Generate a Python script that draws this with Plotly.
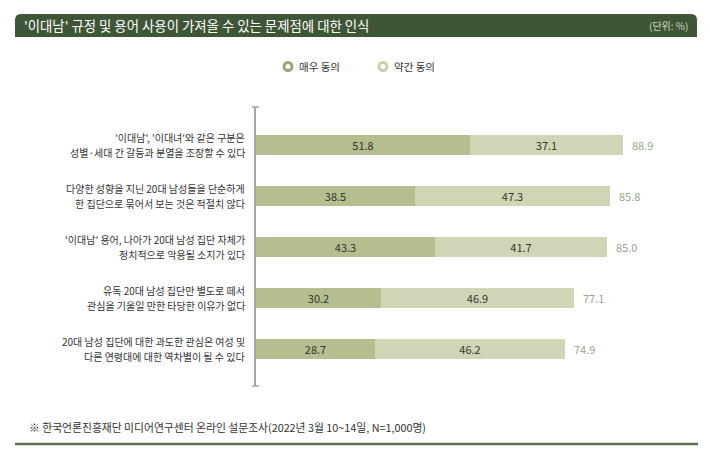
import plotly.graph_objects as go

categories = [
    "'이대남', '이대녀'와 같은 구분은<br>성별·세대 간 갈등과 분열을 조장할 수 있다",
    "다양한 성향을 지닌 20대 남성들을 단순하게<br>한 집단으로 묶어서 보는 것은 적절치 않다",
    "'이대남' 용어, 나아가 20대 남성 집단 자체가<br>정치적으로 악용될 소지가 있다",
    "유독 20대 남성 집단만 별도로 떼서<br>관심을 기울일 만한 타당한 이유가 없다",
    "20대 남성 집단에 대한 과도한 관심은 여성 및<br>다른 연령대에 대한 역차별이 될 수 있다",
]
strong = [51.8, 38.5, 43.3, 30.2, 28.7]
somewhat = [37.1, 47.3, 41.7, 46.9, 46.2]
totals = [88.9, 85.8, 85.0, 77.1, 74.9]
series_names = ["매우 동의", "약간 동의"]
title_text = "'이대남' 규정 및 용어 사용이 가져올 수 있는 문제점에 대한 인식"
unit_text = "(단위: %)"
source_text = "※ 한국언론진흥재단 미디어연구센터 온라인 설문조사(2022년 3월 10~14일, N=1,000명)"

FONT = "Noto Sans CJK KR"
DARK = "#b5be8e"
LIGHT = "#d0d6b5"
RING = ["#9ca672", "#c8cfaa"]
HEADER = "#3e5636"

W, H = 710, 467
L, R, T, B = 256, 669, 107, 386


def px(x):
    return (x - L) / (R - L)


def py(y):
    return (B - y) / (B - T)


fig = go.Figure()
for name, vals, col in zip(series_names, [strong, somewhat], [DARK, LIGHT]):
    fig.add_trace(go.Bar(
        y=categories, x=vals, orientation="h", name=name,
        marker=dict(color=col, line=dict(width=0)),
        width=0.39, texttemplate="%{x:.1f}", textposition="inside", insidetextanchor="middle",
        textangle=0, constraintext="none", textfont=dict(color="#333333", size=11, family=FONT),
        showlegend=False, hoverinfo="skip"))

shapes = []
# header bar with rounded top corners
x0, x1, y0, y1 = px(15), px(697), py(37), py(14)
rx = 6 / (R - L)
ry = 6 / (B - T)
path = (f"M {x0},{y0} L {x0},{y1 - ry} Q {x0},{y1} {x0 + rx},{y1} "
        f"L {x1 - rx},{y1} Q {x1},{y1} {x1},{y1 - ry} L {x1},{y0} Z")
shapes.append(dict(type="path", xref="paper", yref="paper", path=path,
                   fillcolor=HEADER, line=dict(width=0), layer="below"))
# axis caps
for yy in (T, B):
    shapes.append(dict(type="line", xref="paper", yref="paper",
                       x0=px(252), x1=px(259), y0=py(yy), y1=py(yy),
                       line=dict(color="#a6a6a6", width=1.5)))
# footer line
shapes.append(dict(type="line", xref="paper", yref="paper",
                   x0=px(15), x1=px(698), y0=py(444), y1=py(444),
                   line=dict(color="#5b7152", width=2.5)))

annotations = [
    dict(text=title_text, xref="paper", yref="paper", x=px(22), y=py(25.5),
         xanchor="left", yanchor="middle", showarrow=False,
         font=dict(color="white", size=13.4, family=FONT)),
    dict(text=unit_text, xref="paper", yref="paper", x=px(690), y=py(25.5),
         xanchor="right", yanchor="middle", showarrow=False,
         font=dict(color="#cdd5bf", size=10, family=FONT)),
    dict(text=source_text, xref="paper", yref="paper", x=px(27), y=py(427),
         xanchor="left", yanchor="middle", showarrow=False,
         font=dict(color="#333333", size=10.8, family=FONT)),
]

# category labels: one annotation per line, right-aligned to the axis
for cat in categories:
    lines = cat.split("<br>")
    n = len(lines)
    for i, line in enumerate(lines):
        annotations.append(dict(text=line, x=0, y=cat, xref="x", yref="y",
                                xanchor="right", yanchor="middle", xshift=-9,
                                yshift=(n - 1) * 7.5 - i * 15, showarrow=False,
                                font=dict(color="#333333", size=10, family=FONT)))

# totals at bar ends
for cat, tot in zip(categories, totals):
    annotations.append(dict(text=f"{tot:.1f}", x=tot, y=cat, xref="x", yref="y",
                            xanchor="left", yanchor="middle", xshift=7, showarrow=False,
                            font=dict(color="#97a98c", size=11, family=FONT)))

# legend (ring markers + labels)
for name, col, cx in zip(series_names, RING, [288, 383]):
    shapes.append(dict(type="circle", xref="paper", yref="paper",
                       xsizemode="pixel", ysizemode="pixel",
                       xanchor=px(cx), yanchor=py(66.5), x0=-4, x1=4, y0=-4, y1=4,
                       line=dict(color=col, width=3), fillcolor="white"))
    annotations.append(dict(text=name, xref="paper", yref="paper", x=px(cx + 9), y=py(66.5),
                            xanchor="left", yanchor="middle", showarrow=False,
                            font=dict(color="#333333", size=10.5, family=FONT)))

fig.update_layout(
    width=W, height=H,
    margin=dict(l=L, r=W - R, t=T, b=H - B, pad=0),
    barmode="stack", bargap=0,
    paper_bgcolor="white", plot_bgcolor="white",
    font=dict(family=FONT, color="#333333", size=11),
    showlegend=False,
    xaxis=dict(range=[0, 100], visible=False, fixedrange=True),
    yaxis=dict(type="category", categoryorder="array", categoryarray=categories,
               range=[4.725, -0.745], showline=True, linecolor="#a6a6a6", linewidth=2,
               ticks="", showgrid=False, zeroline=False, showticklabels=False,
               fixedrange=True),
    shapes=shapes, annotations=annotations,
)

fig.write_html("out.html", config={"displayModeBar": False},
               post_script="document.body.style.margin='0';")
